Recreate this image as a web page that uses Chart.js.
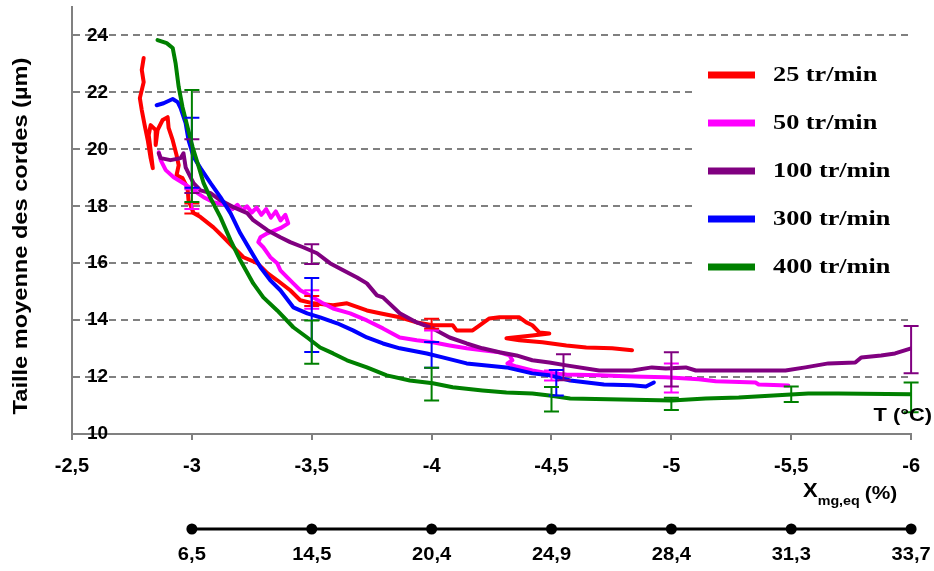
<!DOCTYPE html>
<html>
<head>
<meta charset="utf-8">
<script src="https://cdn.jsdelivr.net/npm/chart.js@4.4.1/dist/chart.umd.min.js"></script>
<style>
  html, body { margin: 0; padding: 0; background: #fff; }
  canvas { display: block; }
</style>
</head>
<body>
<canvas id="chart" width="934" height="571"></canvas>
<script>
// Mean chord size vs temperature for five stirring speeds
const xTicks = [-2.5, -3, -3.5, -4, -4.5, -5, -5.5, -6];
const xTickLabels = ['-2,5', '-3', '-3,5', '-4', '-4,5', '-5', '-5,5', '-6'];
const yTicks = [10, 12, 14, 16, 18, 20, 22, 24];

// second scale under the axis: Xmg,eq (%) at given temperatures
const xmgAt = [-3, -3.5, -4, -4.5, -5, -5.5, -6];
const xmgLabels = ['6,5', '14,5', '20,4', '24,9', '28,4', '31,3', '33,7'];

const labels = ['25 tr/min', '50 tr/min', '100 tr/min', '300 tr/min', '400 tr/min'];
const colors = ['#FF0000', '#FF00FF', '#800080', '#0000FF', '#008000'];

// 25 tr/min
const t25 = [-2.799, -2.791, -2.799, -2.783, -2.791, -2.803, -2.816, -2.828, -2.837, -2.828, -2.820, -2.828, -2.849, -2.849, -2.857, -2.878, -2.899, -2.903, -2.920, -2.936, -2.945, -2.936, -2.961, -2.982, -2.986, -3.007, -3.036, -3.090, -3.132, -3.173, -3.215, -3.273, -3.315, -3.356, -3.410, -3.452, -3.506, -3.589, -3.647, -3.730, -3.784, -3.867, -3.938, -4.005, -4.088, -4.104, -4.171, -4.212, -4.241, -4.283, -4.366, -4.395, -4.420, -4.449, -4.491, -4.420, -4.312, -4.366, -4.462, -4.562, -4.645, -4.753, -4.836];
const d25 = [23.21, 22.79, 22.36, 21.80, 21.38, 20.85, 20.32, 19.69, 19.34, 19.97, 20.50, 20.85, 20.68, 20.15, 20.68, 21.03, 21.13, 20.75, 20.32, 19.80, 19.44, 19.09, 18.99, 18.64, 18.21, 17.76, 17.62, 17.26, 16.91, 16.56, 16.21, 16.00, 15.65, 15.40, 15.05, 14.70, 14.59, 14.52, 14.59, 14.34, 14.24, 14.10, 13.92, 13.82, 13.82, 13.64, 13.64, 13.89, 14.06, 14.10, 14.10, 13.92, 13.82, 13.57, 13.53, 13.46, 13.36, 13.29, 13.22, 13.11, 13.04, 13.01, 12.94];

// 50 tr/min (noisy band around -3.2 / -3.4)
const t50 = [-2.862, -2.870, -2.891, -2.924, -2.965, -3.007, -3.049, -3.090, -3.148, -3.170, -3.190, -3.210, -3.230, -3.250, -3.270, -3.290, -3.310, -3.330, -3.350, -3.370, -3.390, -3.402, -3.369, -3.315, -3.286, -3.277, -3.298, -3.327, -3.356, -3.369, -3.398, -3.423, -3.452, -3.506, -3.547, -3.589, -3.660, -3.730, -3.797, -3.867, -3.938, -4.005, -4.075, -4.146, -4.212, -4.283, -4.325, -4.337, -4.316, -4.354, -4.420, -4.491, -4.562, -4.699, -4.836, -4.977, -5.114, -5.185, -5.351, -5.364, -5.488];
const d50 = [19.90, 19.62, 19.27, 19.02, 18.81, 18.56, 18.32, 18.14, 18.04, 17.90, 18.05, 17.85, 18.00, 17.78, 17.95, 17.70, 17.90, 17.60, 17.82, 17.50, 17.70, 17.40, 17.23, 17.05, 16.91, 16.74, 16.56, 16.21, 16.00, 15.75, 15.50, 15.29, 15.05, 14.80, 14.59, 14.41, 14.24, 13.99, 13.71, 13.39, 13.29, 13.22, 13.11, 13.01, 12.94, 12.87, 12.76, 12.59, 12.48, 12.37, 12.23, 12.13, 12.09, 12.06, 12.02, 11.99, 11.92, 11.85, 11.81, 11.74, 11.70];

// 100 tr/min
const t100 = [-2.862, -2.870, -2.911, -2.953, -2.965, -2.974, -2.986, -3.007, -3.036, -3.078, -3.119, -3.173, -3.231, -3.256, -3.315, -3.369, -3.410, -3.464, -3.522, -3.576, -3.631, -3.689, -3.730, -3.772, -3.797, -3.867, -3.938, -4.005, -4.075, -4.146, -4.212, -4.283, -4.354, -4.420, -4.491, -4.562, -4.699, -4.836, -4.919, -4.977, -5.060, -5.102, -5.476, -5.559, -5.655, -5.767, -5.792, -5.875, -5.933, -6.0];
const d100 = [19.86, 19.69, 19.62, 19.69, 19.86, 19.37, 19.16, 18.81, 18.56, 18.46, 18.21, 17.97, 17.76, 17.51, 17.16, 16.91, 16.74, 16.56, 16.35, 16.00, 15.75, 15.50, 15.29, 14.87, 14.80, 14.24, 13.92, 13.71, 13.39, 13.18, 13.01, 12.87, 12.76, 12.59, 12.51, 12.41, 12.23, 12.23, 12.34, 12.30, 12.34, 12.23, 12.23, 12.34, 12.48, 12.51, 12.69, 12.76, 12.83, 13.01];

// 300 tr/min
const t300 = [-2.853, -2.882, -2.920, -2.941, -2.953, -2.974, -2.986, -3.007, -3.036, -3.078, -3.119, -3.161, -3.202, -3.244, -3.286, -3.327, -3.369, -3.423, -3.481, -3.535, -3.606, -3.672, -3.730, -3.797, -3.867, -3.980, -4.046, -4.146, -4.229, -4.312, -4.420, -4.491, -4.578, -4.719, -4.836, -4.894, -4.927];
const d300 = [21.55, 21.62, 21.77, 21.66, 21.45, 20.92, 20.32, 19.73, 19.34, 18.81, 18.32, 17.76, 17.05, 16.45, 15.86, 15.40, 15.05, 14.45, 14.24, 14.10, 13.89, 13.64, 13.39, 13.18, 13.01, 12.83, 12.69, 12.48, 12.41, 12.34, 12.13, 12.06, 11.88, 11.74, 11.71, 11.67, 11.81];

// 400 tr/min
const t400 = [-2.857, -2.895, -2.920, -2.932, -2.945, -2.961, -2.982, -3.003, -3.024, -3.049, -3.078, -3.119, -3.161, -3.202, -3.256, -3.298, -3.356, -3.423, -3.481, -3.535, -3.589, -3.647, -3.730, -3.813, -3.909, -4.005, -4.088, -4.212, -4.312, -4.420, -4.491, -4.578, -4.790, -5.002, -5.143, -5.281, -5.426, -5.571, -5.696, -6.0];
const d400 = [23.84, 23.73, 23.56, 23.03, 22.19, 21.48, 20.78, 20.08, 19.51, 18.81, 18.28, 17.62, 16.81, 16.10, 15.29, 14.80, 14.34, 13.75, 13.39, 13.04, 12.83, 12.59, 12.34, 12.06, 11.88, 11.78, 11.64, 11.53, 11.46, 11.42, 11.35, 11.25, 11.21, 11.18, 11.25, 11.28, 11.35, 11.42, 11.42, 11.40];

// error bars: temperature, low, high
const eb25T = [-3, -3.5, -4];
const eb25Lo = [17.75, 14.50, 13.70];
const eb25Hi = [18.10, 14.85, 14.05];
const eb50T = [-3, -3.5, -4, -4.5, -5];
const eb50Lo = [17.90, 14.40, 13.23, 11.88, 11.46];
const eb50Hi = [18.60, 15.05, 13.64, 12.23, 12.48];
const eb100T = [-3, -3.5, -4.55, -5, -6];
const eb100Lo = [18.47, 15.97, 11.89, 11.67, 12.13];
const eb100Hi = [20.35, 16.67, 12.80, 12.87, 13.79];
const eb300T = [-3, -3.5, -4, -4.52];
const eb300Lo = [18.65, 12.88, 12.33, 11.35];
const eb300Hi = [21.11, 15.48, 13.23, 12.25];
const eb400T = [-3, -3.5, -4, -4.5, -5, -5.5, -6];
const eb400Lo = [18.15, 12.47, 11.18, 10.79, 10.84, 11.12, 10.76];
const eb400Hi = [22.08, 13.99, 12.33, 11.65, 11.27, 11.67, 11.81];

const series = [
  { t: t25, d: d25, ebT: eb25T, ebLo: eb25Lo, ebHi: eb25Hi },
  { t: t50, d: d50, ebT: eb50T, ebLo: eb50Lo, ebHi: eb50Hi },
  { t: t100, d: d100, ebT: eb100T, ebLo: eb100Lo, ebHi: eb100Hi },
  { t: t300, d: d300, ebT: eb300T, ebLo: eb300Lo, ebHi: eb300Hi },
  { t: t400, d: d400, ebT: eb400T, ebLo: eb400Lo, ebHi: eb400Hi }
];

const SANS = "'Liberation Sans', Arial, sans-serif";
const SERIF = "'Liberation Serif', 'Times New Roman', serif";

// text squeezed/stretched horizontally, like the original export
function stretchText(ctx, text, x, y, sx, align) {
  ctx.save();
  ctx.translate(x, y);
  ctx.scale(sx, 1);
  ctx.textAlign = align || 'left';
  ctx.fillText(text, 0, 0);
  ctx.restore();
}

const legendBox = {
  id: 'legendBox',
  beforeDatasetsDraw(chart) {
    const ctx = chart.ctx;
    ctx.save();
    ctx.fillStyle = '#fff';
    ctx.fillRect(695, 48, 220, 242);
    labels.forEach((lab, i) => {
      const yy = 75 + i * 48;
      ctx.fillStyle = colors[i];
      ctx.fillRect(708, yy - 3.5, 47, 7);
      ctx.fillStyle = '#000';
      ctx.font = 'bold 21px ' + SERIF;
      ctx.textBaseline = 'middle';
      stretchText(ctx, lab, 773, yy + 1, 1.25, 'left');
    });
    ctx.restore();
  }
};

const errorBars = {
  id: 'errorBars',
  afterDatasetsDraw(chart) {
    const { ctx, scales: { x, y } } = chart;
    ctx.save();
    ctx.lineWidth = 2;
    series.forEach((s, k) => {
      ctx.strokeStyle = colors[k];
      s.ebT.forEach((t, i) => {
        const px = x.getPixelForValue(t);
        const p1 = y.getPixelForValue(s.ebLo[i]);
        const p2 = y.getPixelForValue(s.ebHi[i]);
        ctx.beginPath();
        ctx.moveTo(px, p1); ctx.lineTo(px, p2);
        ctx.moveTo(px - 7.5, p1); ctx.lineTo(px + 7.5, p1);
        ctx.moveTo(px - 7.5, p2); ctx.lineTo(px + 7.5, p2);
        ctx.stroke();
      });
    });
    ctx.restore();
  }
};

const annotations = {
  id: 'annotations',
  afterDraw(chart) {
    const { ctx, scales: { x } } = chart;
    ctx.save();
    ctx.fillStyle = '#000';

    // y title
    ctx.save();
    ctx.translate(21, 236);
    ctx.rotate(-Math.PI / 2);
    ctx.font = 'bold 20px ' + SANS;
    ctx.textBaseline = 'middle';
    stretchText(ctx, 'Taille moyenne des cordes (µm)', 0, 0, 1.18, 'center');
    ctx.restore();

    // T (°C)
    ctx.font = 'bold 19px ' + SANS;
    ctx.textBaseline = 'alphabetic';
    stretchText(ctx, 'T (°C)', 932, 421, 1.15, 'right');

    // X mg,eq (%)
    let cx = 803;
    ctx.font = 'bold 20px ' + SANS;
    stretchText(ctx, 'X', cx, 497, 1.1, 'left');
    cx += ctx.measureText('X').width * 1.1;
    ctx.font = 'bold 13px ' + SANS;
    stretchText(ctx, 'mg,eq', cx, 505, 1.1, 'left');
    cx += ctx.measureText('mg,eq').width * 1.1 + 5;
    ctx.font = 'bold 19px ' + SANS;
    stretchText(ctx, '(%)', cx, 499, 1.1, 'left');

    // second scale
    const yLine = 529;
    const xa = x.getPixelForValue(xmgAt[0]);
    const xb = x.getPixelForValue(xmgAt[xmgAt.length - 1]);
    ctx.strokeStyle = '#000';
    ctx.lineWidth = 3;
    ctx.beginPath();
    ctx.moveTo(xa, yLine);
    ctx.lineTo(xb, yLine);
    ctx.stroke();
    ctx.font = 'bold 19px ' + SANS;
    ctx.textBaseline = 'middle';
    xmgAt.forEach((v, i) => {
      const px = x.getPixelForValue(v);
      ctx.beginPath();
      ctx.arc(px, yLine, 5.5, 0, Math.PI * 2);
      ctx.fill();
      stretchText(ctx, xmgLabels[i], px, 555, 1.06, 'center');
    });
    ctx.restore();
  }
};

new Chart(document.getElementById('chart'), {
  type: 'scatter',
  data: {
    datasets: series.map((s, i) => ({
      label: labels[i],
      data: s.t.map((t, k) => ({ x: t, y: s.d[k] })),
      showLine: true,
      borderColor: colors[i],
      backgroundColor: colors[i],
      borderWidth: 4,
      pointRadius: 0,
      tension: 0,
      borderJoinStyle: 'round',
      borderCapStyle: 'round',
      order: series.length - 1 - i
    }))
  },
  options: {
    responsive: false,
    animation: false,
    devicePixelRatio: 1,
    layout: { padding: { left: 72, right: 21, top: 7, bottom: 0 } },
    plugins: { legend: { display: false }, tooltip: { enabled: false } },
    scales: {
      x: {
        type: 'linear',
        reverse: true,
        min: -6,
        max: -2.5,
        afterBuildTicks: s => { s.ticks = xTicks.map(v => ({ value: v })); },
        afterFit: s => { s.height = 137; },
        grid: { drawOnChartArea: false, drawTicks: true, tickLength: 6, color: '#808080', lineWidth: 2 },
        border: { color: '#808080', width: 2 },
        ticks: {
          color: '#000',
          font: { family: SANS, size: 20, weight: 'bold' },
          padding: 14,
          maxRotation: 0,
          autoSkip: false,
          callback: v => xTickLabels[xTicks.indexOf(v)]
        }
      },
      y: {
        type: 'linear',
        min: 10,
        max: 25,
        afterBuildTicks: s => { s.ticks = yTicks.map(v => ({ value: v })); },
        afterFit: s => { s.width = 0; s.paddingTop = 0; s.paddingBottom = 0; },
        grid: {
          drawTicks: false,
          lineWidth: 2,
          color: c => (c.tick && c.tick.value === 10) ? 'rgba(0,0,0,0)' : '#808080'
        },
        border: { color: '#808080', width: 2, dash: [7, 5] },
        ticks: {
          mirror: true,
          padding: 15,
          color: '#000',
          autoSkip: false,
          font: { family: SANS, size: 19, weight: 'bold' }
        }
      }
    }
  },
  plugins: [legendBox, errorBars, annotations]
});
</script>
</body>
</html>
